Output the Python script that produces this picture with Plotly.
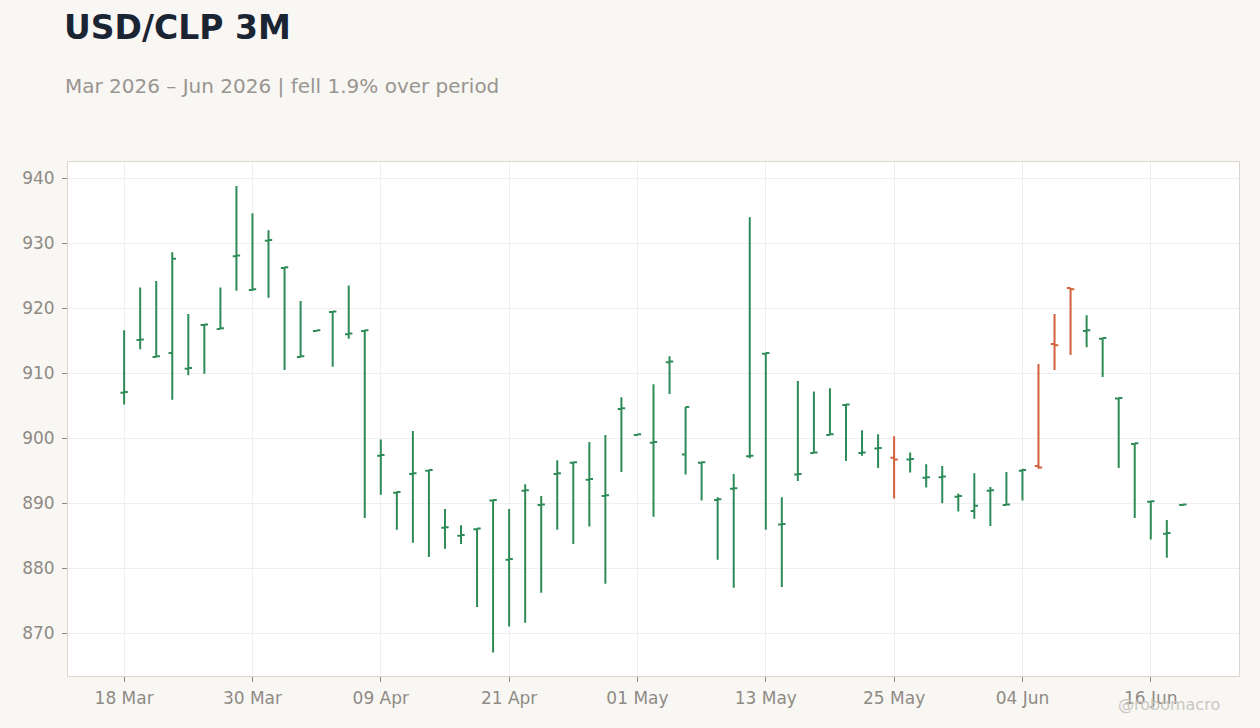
import plotly.graph_objects as go

dates = [
    "2026-03-18", "2026-03-19", "2026-03-20", "2026-03-23", "2026-03-24", "2026-03-25",
    "2026-03-26", "2026-03-27", "2026-03-30", "2026-03-31", "2026-04-01", "2026-04-02",
    "2026-04-03", "2026-04-06", "2026-04-07", "2026-04-08", "2026-04-09", "2026-04-10",
    "2026-04-13", "2026-04-14", "2026-04-15", "2026-04-16", "2026-04-17", "2026-04-20",
    "2026-04-21", "2026-04-22", "2026-04-23", "2026-04-24", "2026-04-27", "2026-04-28",
    "2026-04-29", "2026-04-30", "2026-05-01", "2026-05-04", "2026-05-05", "2026-05-06",
    "2026-05-07", "2026-05-08", "2026-05-11", "2026-05-12", "2026-05-13", "2026-05-14",
    "2026-05-15", "2026-05-18", "2026-05-19", "2026-05-20", "2026-05-21", "2026-05-22",
    "2026-05-25", "2026-05-26", "2026-05-27", "2026-05-28", "2026-05-29", "2026-06-01",
    "2026-06-02", "2026-06-03", "2026-06-04", "2026-06-05", "2026-06-08", "2026-06-09",
    "2026-06-10", "2026-06-11", "2026-06-12", "2026-06-15", "2026-06-16", "2026-06-17",
    "2026-06-18",
]

open_ = [
    907.0, 915.1, 912.5, 913.1, 910.7, 917.4, 916.8, 928.0, 922.8, 930.4, 926.2, 912.5,
    916.5, 919.4, 916.0, 916.5, 897.3, 891.6, 894.5, 895.0, 886.2, 885.0, 886.0, 890.4,
    881.3, 891.9, 889.7, 894.5, 896.2, 893.6, 891.1, 904.5, 900.5, 899.3, 911.7, 897.5,
    896.2, 890.5, 892.2, 897.2, 913.0, 886.7, 894.4, 897.7, 900.5, 905.1, 897.7, 898.4,
    897.0, 896.7, 893.9, 894.0, 891.0, 888.8, 891.9, 889.7, 895.0, 895.7, 914.5, 923.1,
    916.5, 915.3, 906.1, 899.1, 890.2, 885.3, 889.7,
]
high = [
    916.6, 923.2, 924.2, 928.6, 919.1, 917.4, 923.2, 938.8, 934.6, 932.0, 926.2, 921.1,
    916.6, 919.4, 923.5, 916.5, 899.8, 891.8, 901.1, 895.0, 889.1, 886.6, 886.0, 890.4,
    889.1, 892.9, 891.1, 896.6, 896.2, 899.4, 900.5, 906.3, 900.6, 908.3, 912.6, 904.8,
    896.2, 890.9, 894.5, 934.0, 913.0, 890.9, 908.8, 907.2, 907.7, 905.1, 901.2, 900.6,
    900.3, 897.8, 896.0, 895.7, 891.5, 894.6, 892.5, 894.8, 895.3, 911.4, 919.1, 923.1,
    918.9, 915.3, 906.1, 899.1, 890.2, 887.4, 889.8,
]
low = [
    905.2, 913.7, 912.5, 905.9, 909.7, 909.9, 916.8, 922.7, 922.7, 921.6, 910.5, 912.5,
    916.4, 911.0, 915.3, 887.7, 891.3, 885.9, 883.9, 881.7, 883.0, 883.7, 874.0, 867.0,
    871.0, 871.6, 876.2, 885.9, 883.7, 886.4, 877.6, 894.8, 900.4, 887.9, 906.8, 894.4,
    890.4, 881.3, 877.0, 896.9, 885.9, 877.1, 893.4, 897.7, 900.5, 896.5, 897.3, 895.4,
    890.7, 894.7, 892.4, 890.0, 888.7, 887.6, 886.5, 889.7, 890.4, 895.3, 910.5, 912.8,
    914.0, 909.4, 895.4, 887.7, 884.4, 881.6, 889.6,
]
close = [
    907.1, 915.2, 912.6, 927.6, 910.8, 917.5, 916.9, 928.1, 922.9, 930.5, 926.3, 912.6,
    916.6, 919.5, 916.1, 916.6, 897.4, 891.7, 894.6, 895.1, 886.3, 885.1, 886.1, 890.5,
    881.4, 892.0, 889.8, 894.6, 896.3, 893.7, 891.2, 904.6, 900.6, 899.4, 911.8, 904.8,
    896.3, 890.6, 892.3, 897.3, 913.1, 886.8, 894.5, 897.8, 900.6, 905.2, 897.8, 898.5,
    896.7, 896.8, 894.0, 894.1, 891.1, 889.6, 892.0, 889.8, 895.1, 895.5, 914.3, 922.9,
    916.6, 915.4, 906.2, 899.2, 890.3, 885.4, 889.8,
]

tick_dates = ["2026-03-18", "2026-03-30", "2026-04-09", "2026-04-21", "2026-05-01",
              "2026-05-13", "2026-05-25", "2026-06-04", "2026-06-16"]
tick_labels = ["18 Mar", "30 Mar", "09 Apr", "21 Apr", "01 May",
               "13 May", "25 May", "04 Jun", "16 Jun"]
y_ticks = [870, 880, 890, 900, 910, 920, 930, 940]

UP = "#2e8b57"
DOWN = "#d2603a"
FONT = "DejaVu Sans"

fig = go.Figure()
fig.add_trace(go.Ohlc(
    x=dates, open=open_, high=high, low=low, close=close,
    increasing=dict(line=dict(color=UP, width=2)),
    decreasing=dict(line=dict(color=DOWN, width=2)),
    tickwidth=0.23,
    showlegend=False,
    name="USD/CLP 3M",
))

fig.update_layout(
    width=1260, height=728,
    paper_bgcolor="#f8f7f4",
    plot_bgcolor="#ffffff",
    margin=dict(l=68, r=21, t=162, b=52),
    font=dict(family=FONT, color="#8f8a84", size=17),
    showlegend=False,
    annotations=[
        dict(text="<b>USD/CLP 3M</b>", xref="paper", yref="paper", x=-0.005, y=1.262,
             xanchor="left", yanchor="middle", showarrow=False,
             font=dict(family=FONT, size=33, color="#1b2433")),
        dict(text="Mar 2026 – Jun 2026 | fell 1.9% over period", xref="paper", yref="paper",
             x=-0.004, y=1.148, xanchor="left", yanchor="middle", showarrow=False,
             font=dict(family=FONT, size=20, color="#9a9590")),
        dict(text="@robomacro", xref="paper", yref="paper", x=0.9855, y=-0.0545,
             xanchor="right", yanchor="middle", showarrow=False,
             font=dict(family=FONT, size=16, color="#cbc7c1")),
    ],
)
fig.update_xaxes(
    type="category",
    categoryorder="array", categoryarray=dates,
    range=[-3.5, len(dates) + 2.5],
    tickmode="array", tickvals=tick_dates, ticktext=tick_labels,
    ticks="outside", ticklen=5, tickcolor="#8f8a84",
    ticklabelstandoff=2,
    showgrid=True, gridcolor="#efefef",
    showline=True, linecolor="#dcd6cf", mirror=True,
    rangeslider=dict(visible=False),
    tickfont=dict(size=17, color="#8f8a84"),
)
fig.update_yaxes(
    range=[863.4, 942.5],
    tickmode="array", tickvals=y_ticks,
    ticks="outside", ticklen=5, tickcolor="#8f8a84",
    ticklabelstandoff=4,
    showgrid=True, gridcolor="#efefef",
    showline=True, linecolor="#dcd6cf", mirror=True,
    zeroline=False,
    tickfont=dict(size=17, color="#8f8a84"),
)

fig.write_html("out.html", config={"displayModeBar": False},
               post_script="document.body.style.margin='0';")
